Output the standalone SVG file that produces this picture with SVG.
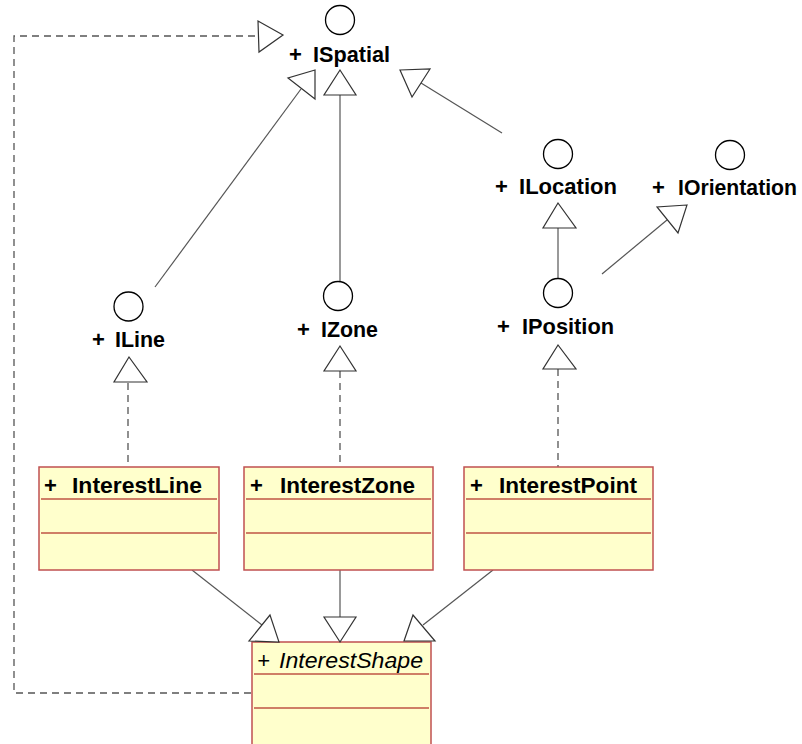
<svg xmlns="http://www.w3.org/2000/svg" width="802" height="744" viewBox="0 0 802 744">
<style>
.lbl{font-family:"Liberation Sans",Arial,sans-serif;font-weight:bold;font-size:22px;fill:#000}
.cls{font-family:"Liberation Sans",Arial,sans-serif;font-weight:bold;font-size:22px;fill:#000}
.abs{font-family:"Liberation Sans",Arial,sans-serif;font-style:italic;font-size:22px;fill:#000}
.iface{fill:#fff;stroke:#000;stroke-width:1.3}
.box{fill:#FFFFCC;stroke:#C05050;stroke-width:1.5}
.sep{stroke:#A00000;stroke-width:1.2}
.ln{fill:none;stroke:#555;stroke-width:1.2}
.dash{fill:none;stroke:#555;stroke-width:1.3;stroke-dasharray:7 5}
.tri{fill:#fff;stroke:#333;stroke-width:1.2}
</style>
<rect width="802" height="744" fill="#fff"/>
<g id="connectors">
  <path class="dash" d="M251,693 H14 V36 H258"/>
  <polygon class="tri" points="283,35 258,21 259,52"/>
  <line class="ln" x1="155" y1="287" x2="301" y2="89"/>
  <polygon class="tri" points="315,70 288,78 315,99"/>
  <line class="ln" x1="340" y1="282" x2="340" y2="95"/>
  <polygon class="tri" points="340,70 324,95 356,95"/>
  <line class="ln" x1="502" y1="133" x2="421" y2="83"/>
  <polygon class="tri" points="400,70 430,69 412,97"/>
  <line class="ln" x1="558" y1="278" x2="558" y2="228"/>
  <polygon class="tri" points="558,203 543,228 576,228"/>
  <line class="ln" x1="602" y1="274" x2="667" y2="220"/>
  <polygon class="tri" points="687,205 657,207 678,233"/>
  <line class="dash" x1="128" y1="383" x2="128" y2="467"/>
  <polygon class="tri" points="129,357 114,382 147,382"/>
  <line class="dash" x1="340" y1="371" x2="340" y2="467"/>
  <polygon class="tri" points="340,346 324,371 356,371"/>
  <line class="dash" x1="558" y1="369" x2="558" y2="467"/>
  <polygon class="tri" points="558,345 543,369 576,369"/>
  <line class="ln" x1="192" y1="570" x2="262" y2="625"/>
  <line class="ln" x1="340" y1="570" x2="340" y2="617"/>
  <line class="ln" x1="493" y1="570" x2="423" y2="625"/>
</g>
<g id="ISpatial">
  <circle class="iface" cx="340" cy="20" r="14.5"/>
  <text class="lbl" x="289" y="62">+</text>
  <text class="lbl" x="313" y="62" textLength="77" lengthAdjust="spacingAndGlyphs">ISpatial</text>
</g>
<g id="ILocation">
  <circle class="iface" cx="558" cy="154" r="14.5"/>
  <text class="lbl" x="495" y="194">+</text>
  <text class="lbl" x="519" y="194" textLength="98" lengthAdjust="spacingAndGlyphs">ILocation</text>
</g>
<g id="IOrientation">
  <circle class="iface" cx="730" cy="155" r="14.5"/>
  <text class="lbl" x="652" y="195">+</text>
  <text class="lbl" x="678" y="195" textLength="119" lengthAdjust="spacingAndGlyphs">IOrientation</text>
</g>
<g id="IPosition">
  <circle class="iface" cx="558" cy="293" r="14.5"/>
  <text class="lbl" x="497" y="334">+</text>
  <text class="lbl" x="522" y="334" textLength="92" lengthAdjust="spacingAndGlyphs">IPosition</text>
</g>
<g id="ILine">
  <circle class="iface" cx="128.5" cy="306.5" r="14.5"/>
  <text class="lbl" x="92" y="347">+</text>
  <text class="lbl" x="115" y="347" textLength="50" lengthAdjust="spacingAndGlyphs">ILine</text>
</g>
<g id="IZone">
  <circle class="iface" cx="338" cy="296" r="14.5"/>
  <text class="lbl" x="297" y="337">+</text>
  <text class="lbl" x="321" y="337" textLength="57" lengthAdjust="spacingAndGlyphs">IZone</text>
</g>
<g id="InterestLine">
  <rect class="box" x="39" y="467" width="180" height="103"/>
  <line class="sep" x1="41" y1="499" x2="217" y2="499"/>
  <line class="sep" x1="41" y1="533" x2="217" y2="533"/>
  <text class="cls" x="44" y="493">+</text>
  <text class="cls" x="72" y="493" textLength="130" lengthAdjust="spacingAndGlyphs">InterestLine</text>
</g>
<g id="InterestZone">
  <rect class="box" x="244" y="467" width="189" height="103"/>
  <line class="sep" x1="246" y1="499" x2="431" y2="499"/>
  <line class="sep" x1="246" y1="533" x2="431" y2="533"/>
  <text class="cls" x="250" y="493">+</text>
  <text class="cls" x="280" y="493" textLength="135" lengthAdjust="spacingAndGlyphs">InterestZone</text>
</g>
<g id="InterestPoint">
  <rect class="box" x="464" y="467" width="189" height="103"/>
  <line class="sep" x1="466" y1="499" x2="651" y2="499"/>
  <line class="sep" x1="466" y1="533" x2="651" y2="533"/>
  <text class="cls" x="470" y="493">+</text>
  <text class="cls" x="499" y="493" textLength="138" lengthAdjust="spacingAndGlyphs">InterestPoint</text>
</g>
<g id="InterestShape">
  <rect class="box" x="252" y="642" width="179" height="110"/>
  <line class="sep" x1="254" y1="674" x2="429" y2="674"/>
  <line class="sep" x1="254" y1="708" x2="429" y2="708"/>
  <text class="abs" x="257" y="668">+</text>
  <text class="abs" x="279" y="668" textLength="144" lengthAdjust="spacingAndGlyphs">InterestShape</text>
</g>
<g id="shape-arrowheads">
  <polygon class="tri" points="270,615 249,641 279,642"/>
  <polygon class="tri" points="324,617 356,617 340,642"/>
  <polygon class="tri" points="413,615 404,641 435,641"/>
</g>
</svg>
